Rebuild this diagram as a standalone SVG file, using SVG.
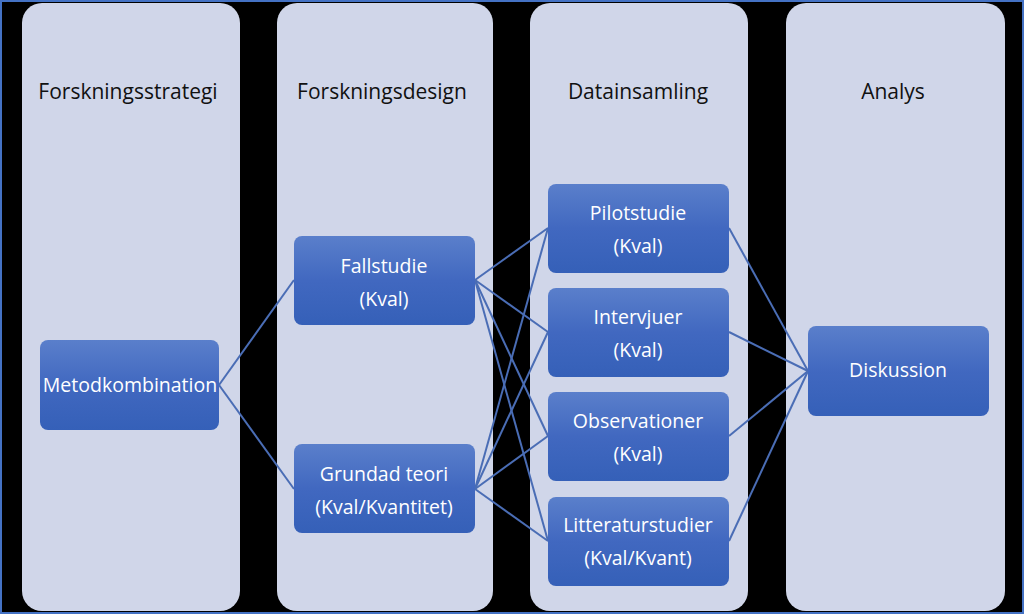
<svg xmlns="http://www.w3.org/2000/svg" width="1024" height="614" viewBox="0 0 1024 614">
<defs>
<linearGradient id="g" x1="0" y1="0" x2="0" y2="1">
<stop offset="0" stop-color="#5a7fcb"/>
<stop offset="0.5" stop-color="#4168c0"/>
<stop offset="1" stop-color="#3560b8"/>
</linearGradient>
<style>
.col{fill:#d0d6e9}
.hd{font-family:"Open Sans","Liberation Sans",sans-serif;font-size:21px;fill:#111;text-anchor:middle}
.nd{fill:url(#g)}
.nt{font-family:"Open Sans","Liberation Sans",sans-serif;font-size:19.5px;fill:#fff;text-anchor:middle}
.cn{stroke:#4a6db5;stroke-width:2;fill:none}
</style>
</defs>
<rect x="0" y="0" width="1024" height="614" fill="#000"/>
<g id="columns">
<rect class="col" x="22" y="3" width="218" height="608" rx="20"/>
<rect class="col" x="277" y="3" width="216" height="608" rx="20"/>
<rect class="col" x="530" y="3" width="218" height="608" rx="20"/>
<rect class="col" x="786" y="3" width="219" height="608" rx="20"/>
<text class="hd" x="128" y="99">Forskningsstrategi</text>
<text class="hd" x="382" y="99">Forskningsdesign</text>
<text class="hd" x="638" y="99">Datainsamling</text>
<text class="hd" x="893" y="99">Analys</text>
</g>
<rect x="1" y="1" width="1022" height="612" fill="none" stroke="#4472c4" stroke-width="2"/>
<g id="connectors">
<line class="cn" x1="219" y1="385" x2="294" y2="280"/>
<line class="cn" x1="219" y1="385" x2="294" y2="489"/>
<line class="cn" x1="475" y1="280" x2="548" y2="228"/>
<line class="cn" x1="475" y1="280" x2="548" y2="332"/>
<line class="cn" x1="475" y1="280" x2="548" y2="436"/>
<line class="cn" x1="475" y1="280" x2="548" y2="541"/>
<line class="cn" x1="475" y1="489" x2="548" y2="228"/>
<line class="cn" x1="475" y1="489" x2="548" y2="332"/>
<line class="cn" x1="475" y1="489" x2="548" y2="436"/>
<line class="cn" x1="475" y1="489" x2="548" y2="541"/>
<line class="cn" x1="729" y1="228" x2="808" y2="371"/>
<line class="cn" x1="729" y1="332" x2="808" y2="371"/>
<line class="cn" x1="729" y1="436" x2="808" y2="371"/>
<line class="cn" x1="729" y1="541" x2="808" y2="371"/>
</g>
<g id="metodkombination">
<rect class="nd" x="40" y="340" width="179" height="90" rx="8"/>
<text class="nt" x="130" y="392">Metodkombination</text>
</g>
<g id="fallstudie">
<rect class="nd" x="294" y="236" width="181" height="89" rx="8"/>
<text class="nt" x="384" y="273">Fallstudie</text>
<text class="nt" x="384" y="306">(Kval)</text>
</g>
<g id="grundad">
<rect class="nd" x="294" y="444" width="181" height="89" rx="8"/>
<text class="nt" x="384" y="481">Grundad teori</text>
<text class="nt" x="384" y="514">(Kval/Kvantitet)</text>
</g>
<g id="pilotstudie">
<rect class="nd" x="548" y="184" width="181" height="89" rx="8"/>
<text class="nt" x="638" y="220">Pilotstudie</text>
<text class="nt" x="638" y="253">(Kval)</text>
</g>
<g id="intervjuer">
<rect class="nd" x="548" y="288" width="181" height="89" rx="8"/>
<text class="nt" x="638" y="324">Intervjuer</text>
<text class="nt" x="638" y="357">(Kval)</text>
</g>
<g id="observationer">
<rect class="nd" x="548" y="392" width="181" height="89" rx="8"/>
<text class="nt" x="638" y="428">Observationer</text>
<text class="nt" x="638" y="461">(Kval)</text>
</g>
<g id="litteraturstudier">
<rect class="nd" x="548" y="497" width="181" height="89" rx="8"/>
<text class="nt" x="638" y="532">Litteraturstudier</text>
<text class="nt" x="638" y="565">(Kval/Kvant)</text>
</g>
<g id="diskussion">
<rect class="nd" x="808" y="326" width="181" height="90" rx="8"/>
<text class="nt" x="898" y="377">Diskussion</text>
</g>
</svg>
